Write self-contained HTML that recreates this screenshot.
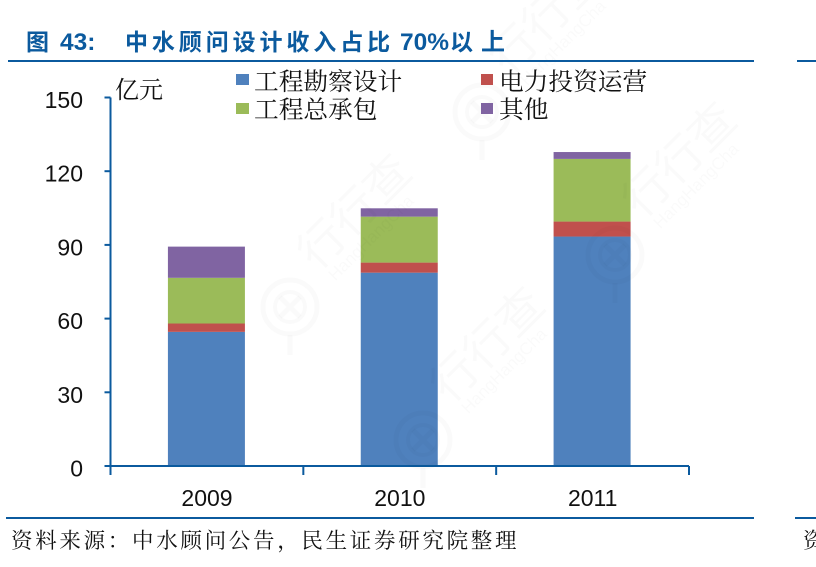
<!DOCTYPE html>
<html lang="zh">
<head>
<meta charset="utf-8">
<title>中水顾问设计收入占比</title>
<style>
html,body{margin:0;padding:0;background:#fff;width:816px;height:567px;overflow:hidden}
svg{display:block}
.sans{font-family:"Liberation Sans","Noto Sans CJK SC",sans-serif}
.song{font-family:"Liberation Serif","Noto Serif CJK SC",serif}
.cjk-song{font-family:"Noto Serif CJK SC",serif}
.wm{fill:#000;fill-opacity:.02;stroke:none}
</style>
</head>
<body>
<svg id="chart" width="816" height="567" viewBox="0 0 816 567" xmlns="http://www.w3.org/2000/svg">
  <g id="bars"></g>
  <g id="axes"></g>

  <g fill="none" stroke="#000" stroke-opacity="0.02">
    <g transform="translate(290,307)">
      <circle r="27" stroke-width="5"/><circle r="15" stroke-width="4"/><path d="M-10-10L10 10M10-10L-10 10M0 28V48" stroke-width="5"/>
      <text class="sans wm" transform="rotate(-45)" x="44" y="-6" font-size="46">行行查</text>
      <text class="sans wm" transform="rotate(-45)" x="50" y="14" font-size="17">HangHangCha</text>
    </g>
    <g transform="translate(423,440)">
      <circle r="27" stroke-width="5"/><circle r="15" stroke-width="4"/><path d="M-10-10L10 10M10-10L-10 10M0 28V48" stroke-width="5"/>
      <text class="sans wm" transform="rotate(-45)" x="44" y="-6" font-size="46">行行查</text>
      <text class="sans wm" transform="rotate(-45)" x="50" y="14" font-size="17">HangHangCha</text>
    </g>
    <g transform="translate(482,112)">
      <circle r="27" stroke-width="5"/><circle r="15" stroke-width="4"/><path d="M-10-10L10 10M10-10L-10 10M0 28V48" stroke-width="5"/>
      <text class="sans wm" transform="rotate(-45)" x="44" y="-6" font-size="46">行行查</text>
      <text class="sans wm" transform="rotate(-45)" x="50" y="14" font-size="17">HangHangCha</text>
    </g>
    <g transform="translate(615,255)">
      <circle r="27" stroke-width="5"/><circle r="15" stroke-width="4"/><path d="M-10-10L10 10M10-10L-10 10M0 28V48" stroke-width="5"/>
      <text class="sans wm" transform="rotate(-45)" x="44" y="-6" font-size="46">行行查</text>
      <text class="sans wm" transform="rotate(-45)" x="50" y="14" font-size="17">HangHangCha</text>
    </g>
  </g>

  <g class="sans" font-weight="700" fill="#0b5a9e">
    <text x="26" y="50" font-size="23">图</text>
    <text x="60" y="50" font-size="24.5">43:</text>
    <text x="125" y="50" font-size="23" letter-spacing="3.9">中水顾问设计收入占比</text>
    <text x="400" y="50" font-size="24.5">70%</text>
    <text x="450" y="50" font-size="23">以</text>
    <text x="481" y="50" font-size="24">上</text>
  </g>
  <rect x="8" y="60" width="746" height="2" fill="#0b5a9e"/>
  <rect x="797" y="60" width="19" height="2" fill="#0b5a9e"/>

  <text class="song" x="115" y="98" font-size="24" fill="#111">亿元</text>

  <rect x="236" y="74" width="13" height="11" fill="#4f81bd"/>
  <text class="song" x="254" y="90" font-size="24.7" fill="#111">工程勘察设计</text>
  <rect x="481" y="74" width="12" height="11" fill="#c0504d"/>
  <text class="song" x="499" y="90" font-size="24.7" fill="#111">电力投资运营</text>
  <rect x="236" y="103" width="13" height="11" fill="#9bbb59"/>
  <text class="song" x="254" y="118" font-size="24.7" fill="#111">工程总承包</text>
  <rect x="481" y="103" width="12" height="11" fill="#8064a2"/>
  <text class="song" x="499" y="118" font-size="24.7" fill="#111">其他</text>

  <rect x="6" y="517" width="748" height="2" fill="#0b5a9e"/>
  <rect x="795" y="517" width="21" height="2" fill="#0b5a9e"/>
  <text class="cjk-song" x="11" y="548" font-size="21.5" fill="#111" letter-spacing="2.7">资料来源&#xFF1A;中水顾问公告&#xFF0C;民生证券研究院整理</text>
  <text class="cjk-song" x="803" y="548" font-size="21.5" fill="#111">资</text>
</svg>
<script>
const categories = ['2009', '2010', '2011'];
const surveyDesign = [54.6, 78.7, 93.4];
const powerInvestment = [3.4, 4.1, 6.1];
const epcContracting = [18.6, 18.7, 25.5];
const otherBusiness = [12.7, 3.4, 2.8];
const yTicks = [0, 30, 60, 90, 120, 150];

const seriesList = [
  { key: 'survey-design', values: surveyDesign, color: '#4f81bd' },
  { key: 'power-investment', values: powerInvestment, color: '#c0504d' },
  { key: 'epc-contracting', values: epcContracting, color: '#9bbb59' },
  { key: 'other-business', values: otherBusiness, color: '#8064a2' }
];

const NS = 'http://www.w3.org/2000/svg';
const plot = { left: 110.5, right: 689, top: 97.5, bottom: 466, yMax: 150 };
const band = (plot.right - plot.left) / categories.length;
const barWidth = 77;
const axisColor = '#0b5a9e';

function yScale(v) {
  return plot.bottom - (v / plot.yMax) * (plot.bottom - plot.top);
}
function xCenter(i) {
  return plot.left + band * (i + 0.5) - 0.5;
}
function make(tag, parent, attrs, text) {
  const el = document.createElementNS(NS, tag);
  Object.keys(attrs).forEach(function (k) { el.setAttribute(k, attrs[k]); });
  if (text !== undefined) el.textContent = text;
  parent.appendChild(el);
  return el;
}

const barsGroup = document.getElementById('bars');
const axesGroup = document.getElementById('axes');

categories.forEach(function (cat, i) {
  let total = 0;
  seriesList.forEach(function (s) {
    const v = s.values[i];
    const y1 = yScale(total);
    const y2 = yScale(total + v);
    const bar = make('rect', barsGroup, {
      x: xCenter(i) - barWidth / 2,
      y: y2,
      width: barWidth,
      height: y1 - y2,
      fill: s.color
    });
    
    
    total += v;
  });
});

const yAxisLine = make('line', axesGroup, { x1: plot.left, x2: plot.left, y1: plot.top, y2: plot.bottom + 9, stroke: axisColor, 'stroke-width': 2 });



const xAxisLine = make('line', axesGroup, { x1: plot.left - 6, x2: plot.right, y1: plot.bottom, y2: plot.bottom, stroke: axisColor, 'stroke-width': 2 });



yTicks.forEach(function (t) {
  const y = yScale(t);
  const tick = make('line', axesGroup, { x1: plot.left - 6, x2: plot.left, y1: y, y2: y, stroke: axisColor, 'stroke-width': 2 });
  
  
  const label = make('text', axesGroup, { x: 83, y: y + 10.5, 'text-anchor': 'end', 'font-size': 23, fill: '#111', class: 'sans' }, String(t));
  
  
});

categories.forEach(function (cat, i) {
  const x = plot.left + band * (i + 1);
  const tick = make('line', axesGroup, { x1: x, x2: x, y1: plot.bottom, y2: plot.bottom + 9, stroke: axisColor, 'stroke-width': 2 });
  
  
  const label = make('text', axesGroup, { x: xCenter(i) + 0.6, y: 506, 'text-anchor': 'middle', 'font-size': 23, fill: '#111', class: 'sans' }, cat);
  
  
});
</script>
</body>
</html>
